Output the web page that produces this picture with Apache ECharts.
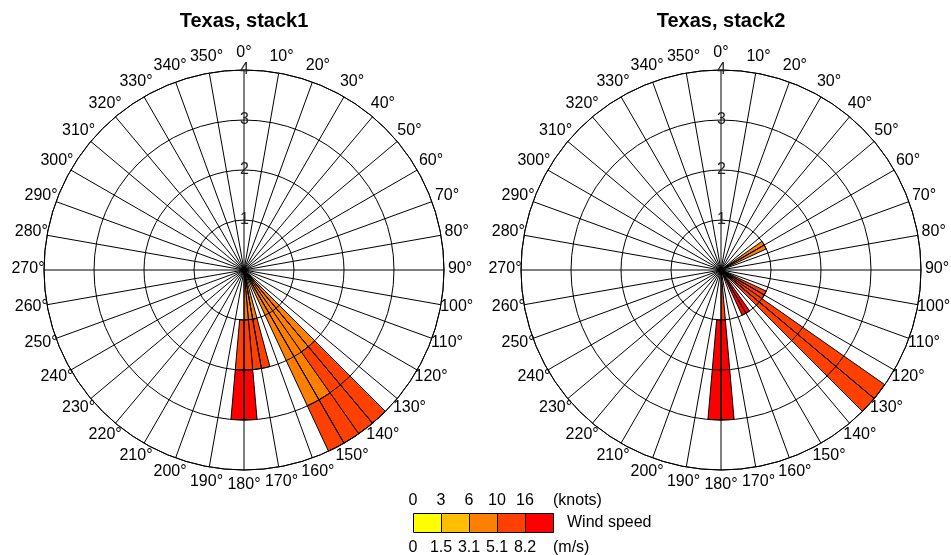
<!DOCTYPE html>
<html>
<head>
<meta charset="utf-8">
<script src="https://cdn.jsdelivr.net/npm/echarts@6/dist/echarts.min.js"></script>
<style>
html,body{margin:0;padding:0;background:#fff;}
#chart{width:951px;height:555px;}
</style>
</head>
<body>
<div id="chart"></div>
<script>
// ---- data ----
// 72 direction bins of 5 degrees: bin i covers [5i, 5i+5) degrees
var titles = ["Texas, stack1", "Texas, stack2"];
var speedClasses = ["0-3 kn", "3-6 kn", "6-10 kn", "10-16 kn", ">16 kn"];
var classColors = ["#FFFF00", "#FFBF00", "#FF8000", "#FF4000", "#FF0000"];
var knotTicks = ["0", "3", "6", "10", "16"];
var msTicks = ["0", "1.5", "3.1", "5.1", "8.2"];
var radiusTicks = [0, 1, 2, 3, 4];

// counts per (bin index -> value) for each speed class; offset = empty base
var s1Offset   = {36: 1};
var s1Class1   = {};
var s1Class2   = {};
var s1Class3   = {27: 2, 28: 2, 29: 3, 30: 3, 33: 1, 34: 1, 35: 1};
var s1Class4   = {27: 2, 28: 2, 29: 1, 30: 1, 33: 1, 34: 1, 35: 1, 36: 1};
var s1Class5   = {35: 1, 36: 1};

var s2Offset   = {36: 1};
var s2Class1   = {};
var s2Class2   = {};
var s2Class3   = {11: 1, 12: 1};
var s2Class4   = {23: 1, 24: 1, 25: 4, 26: 4, 35: 1};
var s2Class5   = {29: 1, 30: 1, 35: 2, 36: 2};

var NBINS = 72;
var binLabels = [];
for (var i = 0; i < NBINS; i++) binLabels.push(String(i * 5));

function toArr(obj) {
  var a = [];
  for (var i = 0; i < NBINS; i++) a.push(obj[i] ? obj[i] : '-');
  return a;
}

var chartDefs = [
  {center: [244, 270], offset: s1Offset, classes: [s1Class1, s1Class2, s1Class3, s1Class4, s1Class5]},
  {center: [721, 270], offset: s2Offset, classes: [s2Class1, s2Class2, s2Class3, s2Class4, s2Class5]}
];

var FONT = "'Liberation Sans', Arial, sans-serif";
var RADIUS = 200, LABEL_R = 216;

// rich styles that centre every angle label on a circle of radius LABEL_R
var angleRich = {};
for (var a = 0; a < 360; a += 10) {
  var rad = a * Math.PI / 180;
  var dx = LABEL_R * Math.sin(rad), dy = -LABEL_R * Math.cos(rad) - 1;
  angleRich['a' + a] = {
    fontSize: 16, fontFamily: FONT, color: '#000',
    padding: [Math.max(0, 2 * dy), Math.max(0, -2 * dx), Math.max(0, -2 * dy), Math.max(0, 2 * dx)]
  };
}

var polar = [], angleAxis = [], radiusAxis = [], series = [], titleArr = [];

chartDefs.forEach(function (cd, k) {
  // grid polar (drawn above bars)
  polar.push({center: cd.center, radius: RADIUS});
  angleAxis.push({
    polarIndex: 2 * k, type: 'value', min: 0, max: 360, interval: 10,
    startAngle: 90, clockwise: true, z: 5,
    axisLine: {show: true, lineStyle: {color: '#000', width: 1}},
    axisTick: {show: false},
    splitLine: {show: true, lineStyle: {color: '#000', width: 1}},
    axisLabel: {
      show: true, margin: -RADIUS, color: '#000', fontSize: 16, fontFamily: FONT,
      rich: angleRich,
      formatter: function (v) {
        var r = Math.round(v);
        return r >= 360 ? '' : '{a' + r + '|' + r + '°}';
      }
    }
  });
  radiusAxis.push({
    polarIndex: 2 * k, type: 'value', min: radiusTicks[0], max: radiusTicks[radiusTicks.length - 1], interval: 1, z: 5,
    axisLine: {show: false}, axisTick: {show: false},
    splitLine: {show: true, lineStyle: {color: '#000', width: 1}},
    axisLabel: {
      show: true, margin: -5, color: '#222', fontSize: 16, fontFamily: FONT, showMinLabel: false,
      formatter: function (v) { return v === 0 ? '' : String(v); }
    }
  });
  // bars polar
  polar.push({center: cd.center, radius: RADIUS});
  angleAxis.push({
    polarIndex: 2 * k + 1, type: 'category', data: binLabels, startAngle: 90, clockwise: true,
    boundaryGap: true, show: false
  });
  radiusAxis.push({polarIndex: 2 * k + 1, type: 'value', min: 0, max: 4, show: false});

  series.push({
    type: 'bar', coordinateSystem: 'polar', polarIndex: 2 * k + 1, stack: 's' + k,
    name: 'offset', data: toArr(cd.offset), barCategoryGap: '0%', z: 2, silent: true,
    itemStyle: {color: 'rgba(0,0,0,0)', borderWidth: 0}
  });
  cd.classes.forEach(function (cls, j) {
    series.push({
      type: 'bar', coordinateSystem: 'polar', polarIndex: 2 * k + 1, stack: 's' + k,
      name: speedClasses[j], data: toArr(cls), barCategoryGap: '0%', z: 2,
      itemStyle: {color: classColors[j], borderColor: '#000', borderWidth: 1}
    });
  });
  titleArr.push({
    text: titles[k], left: cd.center[0], top: 11, textAlign: 'center', padding: 0,
    textStyle: {fontSize: 20, fontWeight: 'bold', color: '#000', fontFamily: FONT}
  });
});

// legend colour bar
var graphics = [];
var lx0 = 413, ly0 = 513, lw = 28, lh = 19;
var LFONT = '16px ' + FONT;
classColors.forEach(function (c, j) {
  graphics.push({type: 'rect', left: lx0 + j * lw, top: ly0,
    shape: {width: lw, height: lh}, style: {fill: c, stroke: '#000', lineWidth: 1}});
});
knotTicks.forEach(function (t, j) {
  graphics.push({type: 'text', x: lx0 + j * lw, y: 501,
    style: {text: t, fill: '#000', font: LFONT, textAlign: 'center', textVerticalAlign: 'middle'}});
});
msTicks.forEach(function (t, j) {
  graphics.push({type: 'text', x: lx0 + j * lw, y: 548,
    style: {text: t, fill: '#000', font: LFONT, textAlign: 'center', textVerticalAlign: 'middle'}});
});
graphics.push({type: 'text', x: 553, y: 501, style: {text: '(knots)', fill: '#000', font: LFONT, textAlign: 'left', textVerticalAlign: 'middle'}});
graphics.push({type: 'text', x: 553, y: 548, style: {text: '(m/s)', fill: '#000', font: LFONT, textAlign: 'left', textVerticalAlign: 'middle'}});
graphics.push({type: 'text', x: 567, y: 523, style: {text: 'Wind speed', fill: '#000', font: LFONT, textAlign: 'left', textVerticalAlign: 'middle'}});

var chart = echarts.init(document.getElementById('chart'), null, {renderer: 'canvas'});
chart.setOption({
  backgroundColor: '#fff',
  animation: false,
  title: titleArr,
  polar: polar,
  angleAxis: angleAxis,
  radiusAxis: radiusAxis,
  series: series,
  graphic: graphics
});
</script>
</body>
</html>
